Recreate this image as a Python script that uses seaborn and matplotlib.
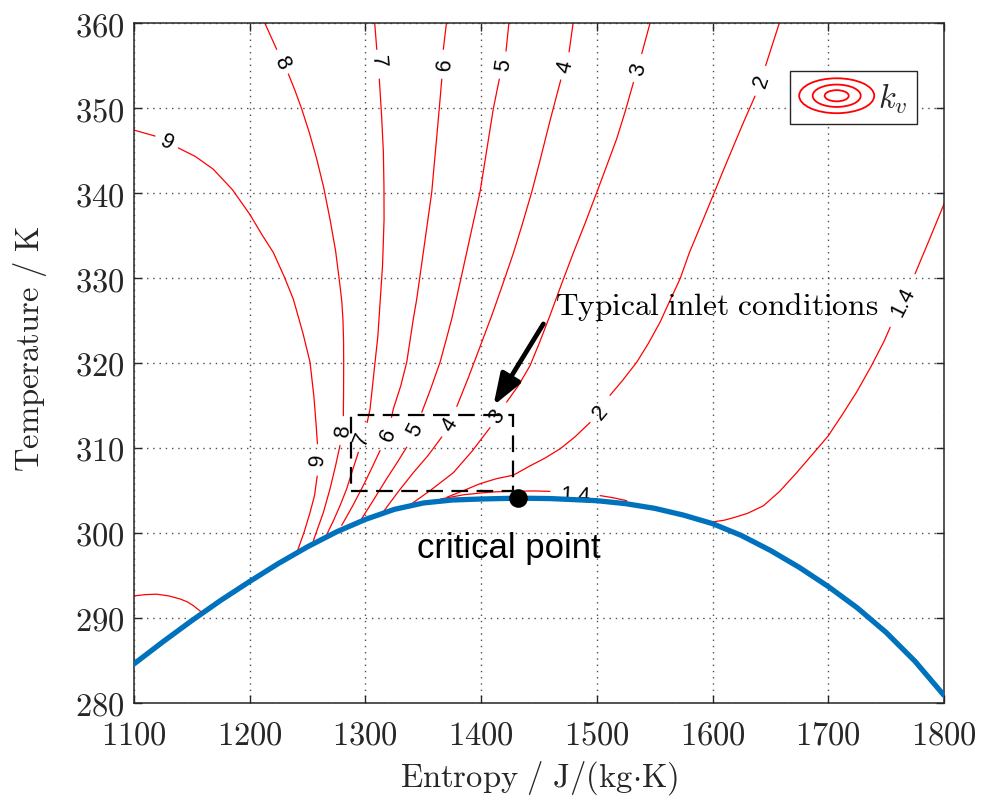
import numpy as np
import pandas as pd
import matplotlib
matplotlib.use("Agg")
import matplotlib.pyplot as plt
import seaborn as sns
from matplotlib.patches import Rectangle, Ellipse
from matplotlib.legend_handler import HandlerBase
from matplotlib.lines import Line2D
from matplotlib.ticker import FuncFormatter, FixedLocator

# ---------------- data ----------------
# saturation dome (entropy J/(kg K), temperature K)
DOME_S = [1100, 1125, 1150, 1175, 1200, 1225, 1250, 1275, 1300, 1325, 1350, 1375, 1400,
          1432, 1460, 1500, 1525, 1550, 1575, 1600, 1625, 1650, 1675, 1700, 1725, 1750,
          1775, 1800]
DOME_T = [284.6, 287.2, 289.7, 292.08, 294.3, 296.43, 298.38, 300.13, 301.6, 302.78,
          303.53, 303.88, 304.0, 304.1, 304.05, 303.8, 303.45, 302.9, 302.1, 301.1, 299.7,
          297.95, 295.95, 293.7, 291.2, 288.3, 284.9, 280.9]

CRIT_S = [1432]
CRIT_T = [304.1]

# k_v contour pieces (pieces are separated where the inline labels sit)
K9_UPPER = [
    [(1100, 347.4), (1118.2, 346.7)],
    [(1138.3, 345.3), (1153, 344.3), (1168.5, 342.8), (1185, 340.4), (1200, 337.5),
     (1211, 335.0), (1220.4, 333.0), (1230, 330.1), (1237.7, 327.5), (1246, 323.5),
     (1252.1, 320.1), (1255.5, 316.0), (1257.5, 312.5), (1258.5, 310.5)],
    [(1258.3, 306.7), (1256.0, 304.4), (1252.1, 302.4), (1247.0, 300.1), (1241.0, 297.8)],
]
K9_LOWER = [
    [(1100, 292.6), (1110, 292.75), (1119.6, 292.8), (1130, 292.6), (1139.8, 292.24),
     (1146, 291.9), (1151.3, 291.45), (1158.5, 290.67)],
]
K8 = [
    [(1213.0, 360.0), (1223.3, 356.9)],
    [(1233.4, 354.0), (1239.0, 352.1), (1244.9, 349.9), (1251.5, 347.1), (1257.9, 344.0),
     (1264.0, 340.6), (1269.4, 336.9), (1274.2, 333.2), (1278.0, 329.1), (1279.6, 327.2),
     (1280.6, 325.0), (1281.1, 322.5), (1281.2, 320.0), (1281.1, 316.5), (1280.9, 313.8)],
    [(1278.0, 310.3), (1274.0, 307.8), (1269.4, 305.2), (1263.6, 302.4), (1255.0, 299.1)],
]
K7 = [
    [(1308.0, 360.0), (1309.8, 356.9)],
    [(1312.0, 353.4), (1314.0, 349.0), (1315.5, 344.8), (1316.0, 340.8), (1316.1, 336.9),
     (1314.8, 331.5), (1312.6, 327.0), (1310.7, 323.1), (1308.3, 320.1), (1304.0, 314.6),
     (1301.5, 313.0)],
    [(1293.9, 309.5), (1288.2, 307.1), (1283.8, 305.2), (1278.0, 303.2), (1272.5, 301.5),
     (1266.5, 299.8)],
]
K6 = [
    [(1370.0, 360.0), (1367.3, 356.9)],
    [(1366.0, 353.4), (1363.0, 348.7), (1357.3, 340.1), (1350.0, 333.0), (1344.3, 327.5),
     (1341.4, 325.2), (1335.7, 320.1), (1330.5, 317.3), (1324.1, 314.6), (1322.5, 313.6)],
    [(1312.6, 309.7), (1305.0, 307.5), (1298.2, 305.6), (1289.0, 303.2), (1279.5, 300.9)],
]
K5 = [
    [(1424.0, 360.0), (1421.5, 356.7)],
    [(1415.7, 353.4), (1410.5, 349.9), (1405.0, 345.2), (1399.0, 340.1), (1393.3, 336.6),
     (1387.5, 333.0), (1381.0, 329.0), (1374.6, 325.2), (1369.5, 322.6), (1364.5, 320.1),
     (1356.5, 317.0), (1348.7, 314.2)],
    [(1335.7, 310.1), (1327.0, 308.2), (1318.4, 306.4), (1307.5, 304.0), (1296.8, 301.7)],
]
K4 = [
    [(1479.5, 360.0), (1476.0, 356.6)],
    [(1468.8, 353.3), (1459.5, 348.5), (1451.0, 343.9), (1443.7, 340.1), (1435.5, 336.3),
     (1427.8, 332.9), (1418.5, 329.2), (1409.2, 325.6), (1399.0, 321.9), (1389.0, 318.3),
     (1379.0, 314.9)],
    [(1366.0, 311.3), (1354.0, 309.1), (1341.4, 307.1), (1328.0, 304.8), (1315.5, 302.5)],
]
K3 = [
    [(1546.0, 360.0), (1538.8, 356.4)],
    [(1531.6, 353.0), (1524.5, 349.6), (1517.2, 346.4), (1508.5, 343.2), (1500.0, 340.1),
     (1490.0, 336.5), (1479.8, 333.0), (1469.5, 329.3), (1459.5, 325.6), (1451.0, 322.6),
     (1442.3, 319.7), (1432.0, 317.3), (1422.0, 315.4)],
    [(1407.7, 312.4), (1392.0, 309.6), (1376.0, 307.1), (1357.0, 305.1), (1338.5, 303.3)],
]
K2 = [
    [(1657.7, 360.0), (1645.9, 355.0)],
    [(1636.7, 351.4), (1627.0, 348.4), (1618.0, 345.5), (1608.5, 342.4), (1599.2, 339.3),
     (1589.5, 336.1), (1580.0, 333.0), (1571.9, 329.9), (1563.0, 327.3), (1554.6, 324.8),
     (1544.5, 322.3), (1534.5, 320.1), (1522.5, 318.0), (1511.4, 316.2)],
    [(1494.1, 313.0), (1481.0, 311.3), (1468.2, 309.9), (1455.0, 308.8), (1442.3, 307.9),
     (1427.8, 306.8), (1413.5, 306.4), (1399.0, 305.8), (1385.0, 305.0), (1370.3, 304.2)],
]
K14_NEAR = [
    [(1365.0, 304.0), (1385.0, 304.5), (1399.0, 304.7), (1413.0, 304.85), (1427.8, 304.9),
     (1445.0, 304.95), (1459.5, 304.9)],
    [(1502.8, 304.4), (1514.0, 304.15), (1525.8, 303.8)],
]
K14_RIGHT = [
    [(1600.0, 301.3), (1610.0, 301.5), (1618.0, 301.8), (1630.0, 302.3), (1643.9, 303.2),
     (1658.0, 304.9), (1672.7, 307.1), (1686.0, 309.2), (1699.8, 311.4), (1712.0, 313.9),
     (1724.6, 316.6), (1737.0, 319.6), (1748.0, 322.5), (1753.5, 324.2)],
    [(1775.0, 330.5), (1787.0, 334.4), (1800.0, 338.7)],
]

# inline contour labels
LABEL_TEXT = ["9", "9", "8", "8", "7", "7", "6", "6", "5", "5", "4", "4",
              "3", "3", "2", "2", "1.4", "1.4"]
LABEL_S = [1128.0, 1258.6, 1228.0, 1280.9, 1311.0, 1296.8, 1368.8, 1319.8, 1419.2, 1342.9,
           1472.5, 1373.1, 1535.9, 1413.5, 1642.5, 1502.8, 1481.2, 1764.9]
LABEL_T = [346.0, 308.7, 355.4, 312.0, 355.6, 311.1, 355.2, 311.6, 355.2, 312.2,
           355.0, 312.8, 354.6, 313.8, 353.2, 314.2, 304.4, 327.3]

# dashed "typical inlet" box
BOX_S = [1287.3, 1427.3]
BOX_T = [304.9, 313.9]

X_TICKS = [1100, 1200, 1300, 1400, 1500, 1600, 1700, 1800]
Y_TICKS = [280, 290, 300, 310, 320, 330, 340, 350, 360]

# ---------------- styling ----------------
LABEL_ROT = [-27, 87, -64, 84, -85, 68, 85, 66, 81, 62, 77, 58, 74, 55, 71, 50, -3, 63]

sns.set_style("ticks")
plt.rcParams["mathtext.fontset"] = "cm"
plt.rcParams["font.family"] = ["Liberation Sans", "DejaVu Sans"]

rows = []
pid = 0
for name, pieces in [("9a", K9_UPPER), ("9b", K9_LOWER), ("8", K8), ("7", K7), ("6", K6),
                     ("5", K5), ("4", K4), ("3", K3), ("2", K2), ("1.4a", K14_NEAR),
                     ("1.4b", K14_RIGHT)]:
    for piece in pieces:
        for s, t in piece:
            rows.append({"level": name, "piece": pid, "s": s, "T": t})
        pid += 1
cdf = pd.DataFrame(rows)
dome = pd.DataFrame({"s": DOME_S, "T": DOME_T})

fig = plt.figure(figsize=(9.92, 8.03), dpi=100)
ax = fig.add_axes([0.1351, 0.1233, 0.8165, 0.8468])

sns.lineplot(data=cdf, x="s", y="T", units="piece", estimator=None, sort=False,
             color="#ff0000", lw=0.9, ax=ax, legend=False, zorder=2)

for txt, s, t, r in zip(LABEL_TEXT, LABEL_S, LABEL_T, LABEL_ROT):
    ax.text(s, t, txt, rotation=r, rotation_mode="anchor", ha="center", va="center",
            fontsize=15.5, color="black", family=["Liberation Sans", "DejaVu Sans"],
            zorder=3)

sns.lineplot(data=dome, x="s", y="T", sort=False, color="#0072BD", lw=3.8, ax=ax, zorder=4)

ax.add_patch(Rectangle((BOX_S[0], BOX_T[0]), BOX_S[1] - BOX_S[0], BOX_T[1] - BOX_T[0],
                       fill=False, edgecolor="black", lw=1.6, ls=(0, (7.5, 3.8)), zorder=5))

sns.scatterplot(x=CRIT_S, y=CRIT_T, s=180, color="black", linewidth=0, ax=ax, zorder=6)

ax.annotate("", xy=(1410.6, 315.0), xytext=(1453.8, 324.6),
            arrowprops=dict(arrowstyle="-|>,head_length=0.95,head_width=0.34", lw=3.4,
                            color="black", mutation_scale=20, shrinkA=0, shrinkB=0),
            zorder=6)

ax.text(1463.9, 325.8, r"$\mathrm{Typical\ inlet\ conditions}$", fontsize=22.6,
        ha="left", va="baseline", color="black", zorder=6)
ax.text(1344.6, 297.2, "critical point", fontsize=25, ha="left", va="baseline",
        family=["Liberation Sans", "DejaVu Sans"], color="black", zorder=6)

ax.set_xlim(1100, 1800)
ax.set_ylim(280, 360)
ax.xaxis.set_major_locator(FixedLocator(X_TICKS))
ax.yaxis.set_major_locator(FixedLocator(Y_TICKS))
fmt = FuncFormatter(lambda v, p: f"${v:.0f}$")
ax.xaxis.set_major_formatter(fmt)
ax.yaxis.set_major_formatter(fmt)
ax.tick_params(direction="in", length=6, width=1, top=True, right=True,
               labelsize=23.5, colors="#262626", labelcolor="#262626")
ax.tick_params(axis="x", pad=12)
ax.tick_params(axis="y", pad=7)
ax.grid(True, color="#222222", lw=1.0, ls=(0, (1, 3.5)), alpha=0.8)
for sp in ax.spines.values():
    sp.set_visible(True)
    sp.set_color("#262626")
    sp.set_linewidth(1.1)

ax.set_xlabel(r"$\mathrm{Entropy\ /\ J/(kg{\cdot}K)}$", fontsize=23.5, color="#262626")
ax.set_ylabel(r"$\mathrm{Temperature\ /\ K}$", fontsize=23.5, color="#262626")
ax.xaxis.set_label_coords(0.5, -0.109)
ax.xaxis.label.set_va("center")
ax.yaxis.set_label_coords(-0.128, 0.522)
ax.yaxis.label.set_va("center")


class ContourHandler(HandlerBase):
    def create_artists(self, legend, orig_handle, xdescent, ydescent, width, height,
                       fontsize, trans):
        cx = -xdescent + width / 2
        cy = -ydescent + height / 2
        arts = []
        for f in (1.0, 0.64, 0.32):
            arts.append(Ellipse((cx, cy), width * f, height * 1.5 * f, fill=False,
                                edgecolor="#ff0000", lw=1.3, transform=trans))
        return arts


proxy = Line2D([], [], color="#ff0000")
leg = ax.legend([proxy], [r"$k_v$"], handler_map={proxy: ContourHandler()},
                loc="upper right", bbox_to_anchor=(0.9667, 0.9294), borderaxespad=0,
                fontsize=23.5, handlelength=2.3, handleheight=0.72, handletextpad=0.12,
                borderpad=0.28, fancybox=False, framealpha=1, edgecolor="#262626")
leg.get_frame().set_linewidth(1.0)

fig.savefig("out.png", dpi=100)
